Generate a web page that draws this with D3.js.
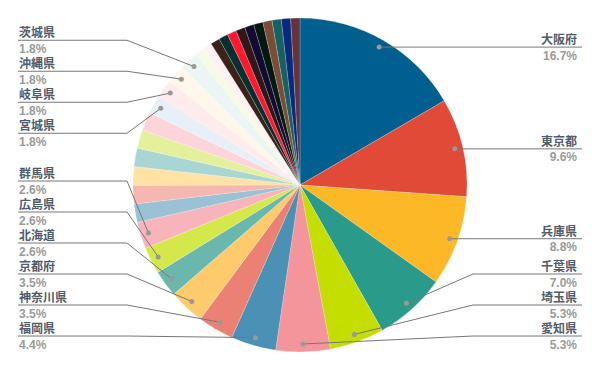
<!DOCTYPE html>
<html lang="ja">
<head>
    <meta charset="utf-8">
    <title>都道府県別 割合</title>
    <style>
        body { margin: 0; background: #fff; }
        svg { display: block; }
        .name { font-family: "Noto Sans CJK JP", sans-serif; font-weight: bold; font-size: 12px; fill: #4f5d6b; }
        .pct { font-family: "Liberation Sans", Arial, sans-serif; font-weight: bold; font-size: 12px; fill: #9a9a9a; }
        .leader { fill: none; stroke: #777; stroke-width: 1; }
        .dot { fill: #999; }
    </style>
    <script src="https://d3js.org/d3.v7.min.js"></script>
</head>
<body>
<svg id="chart" width="600" height="371"></svg>
<script>
    // 表示されていない小さな区分は名前なし (null)
    const categories = [
        "大阪府", "東京都", "兵庫県", "千葉県", "埼玉県", "愛知県", "福岡県", "神奈川県",
        "京都府", "北海道", "広島県", "群馬県",
        null, null, null, null, null, null,
        "宮城県", "岐阜県", "沖縄県", "茨城県",
        null, null,
        null, null, null, null, null, null, null, null, null, null
    ];
    const values = [
        16.7, 9.6, 8.8, 7.0, 5.3, 5.3, 4.4, 3.5,
        3.5, 2.6, 2.6, 2.6,
        1.8, 1.8, 1.8, 1.8, 1.8, 1.8,
        1.8, 1.8, 1.8, 1.8,
        0.9, 0.9,
        0.9, 0.9, 0.9, 0.9, 0.9, 0.9, 0.9, 0.9, 0.9, 0.9
    ];
    const colors = [
        "#005f8e", "#e04a37", "#fdb827", "#2a9a8b", "#c3de00", "#f4959c", "#4a91b5", "#ea8174",
        "#fdcb6c", "#6ab8ad", "#d4e84b", "#f7b4ba",
        "#9bc1d4", "#f4b8b1", "#fee2a6", "#a9d6d2", "#e4f09b", "#fbd5d9",
        "#e6f0f6", "#fdeceb", "#fff7ea", "#eaf5f4",
        "#f7fbe5", "#fef0f3",
        "#3b2117", "#04302f", "#ff1830", "#301819", "#120a30", "#001a12", "#7b4d36", "#166260", "#072a7f", "#6b3139"
    ];

    const cx = 300, cy = 185, radius = 167;
    const gap = 31;
    const labelTop = 10, labelBottom = cy + 151;

    const svg = d3.select("#chart");
    const data = categories.map((name, i) => ({ name, value: values[i], color: colors[i] }));

    const pie = d3.pie().sort(null).value(d => d.value);
    const arcs = pie(data);
    const arc = d3.arc().innerRadius(0).outerRadius(radius);
    const dotArc = d3.arc().innerRadius(radius - 8).outerRadius(radius - 8);

    const g = svg.append("g").attr("transform", `translate(${cx},${cy})`);

    g.selectAll("path.slice")
        .data(arcs)
        .join("path")
        .attr("class", "slice")
        .attr("d", arc)
        .attr("fill", d => d.data.color)
        .attr("stroke", "#fff")
        .attr("stroke-opacity", 0.4)
        .attr("stroke-width", 0.5);

    // ラベル位置: 重なる場合はまとめて中央に配置
    function spread(items) {
        items.sort((a, b) => a.idealY - b.idealY);
        let clusters = items.map(d => ({ items: [d] }));
        const place = c => {
            const n = c.items.length;
            let top = d3.mean(c.items, (d, i) => d.idealY - i * gap);
            top = Math.max(labelTop, Math.min(labelBottom - (n - 1) * gap, top));
            c.top = top;
            c.bottom = top + (n - 1) * gap;
        };
        clusters.forEach(place);
        let merged = true;
        while (merged) {
            merged = false;
            for (let i = 1; i < clusters.length; i++) {
                if (clusters[i].top - clusters[i - 1].bottom < gap) {
                    clusters[i - 1].items = clusters[i - 1].items.concat(clusters[i].items);
                    place(clusters[i - 1]);
                    clusters.splice(i, 1);
                    merged = true;
                    break;
                }
            }
        }
        clusters.forEach(c => c.items.forEach((d, i) => { d.lineY = c.top + i * gap; }));
    }

    const labels = arcs.filter(d => d.data.name).map(d => {
        const [x, y] = dotArc.centroid(d);
        const mid = (d.startAngle + d.endAngle) / 2;
        return { name: d.data.name, value: d.data.value, dx: cx + x, dy: cy + y, idealY: cy + y, right: mid <= Math.PI };
    });
    spread(labels.filter(d => d.right));
    spread(labels.filter(d => !d.right));

    const lg = svg.append("g");
    labels.forEach(d => {
        const elbowX = d.right ? 473 : 127;
        const endX = d.right ? 582 : 18;
        const textX = d.right ? 577 : 19;
        const anchor = d.right ? "end" : "start";

        lg.append("path")
            .attr("class", "leader")
            .attr("d", d3.line()([[d.dx, d.dy], [elbowX, d.lineY], [endX, d.lineY]]));
        lg.append("circle")
            .attr("class", "dot")
            .attr("cx", d.dx)
            .attr("cy", d.dy)
            .attr("r", 2.5);
        lg.append("text")
            .attr("class", "name")
            .attr("x", textX)
            .attr("y", d.lineY - 3)
            .attr("text-anchor", anchor)
            .text(d.name);
        lg.append("text")
            .attr("class", "pct")
            .attr("x", textX)
            .attr("y", d.lineY + 12.5)
            .attr("text-anchor", anchor)
            .text(d.value.toFixed(1) + "%");
    });
</script>
</body>
</html>
